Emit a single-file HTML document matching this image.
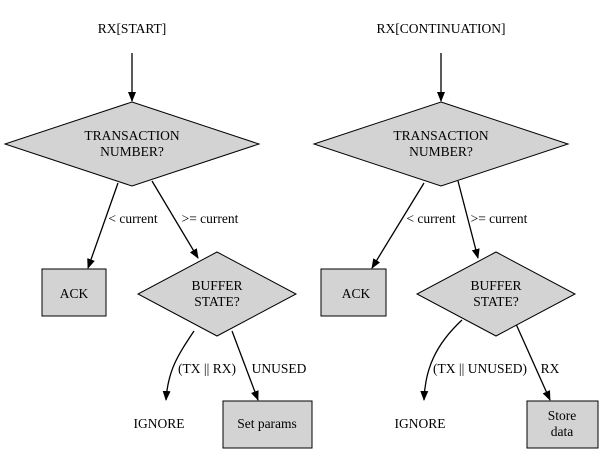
<!DOCTYPE html>
<html><head><meta charset="utf-8"><style>
html,body{margin:0;padding:0;background:#fff;}
svg{display:block;}
svg text{font-family:"Liberation Serif","DejaVu Serif","Times New Roman",serif;font-size:13.5px;}
</style></head><body>
<svg width="605" height="455" viewBox="0 0 605 455" xmlns="http://www.w3.org/2000/svg">
<defs><marker id="a" markerWidth="10" markerHeight="10" refX="9" refY="5" orient="auto" markerUnits="userSpaceOnUse"><path d="M0,1 L10,5 L0,9 Z" fill="#000"/></marker></defs>
<g stroke="#000" stroke-width="1.3" fill="none">
<line x1="132" y1="53" x2="132" y2="101" marker-end="url(#a)"/>
<line x1="118" y1="183" x2="88" y2="268" marker-end="url(#a)"/>
<line x1="152" y1="181" x2="198" y2="258" marker-end="url(#a)"/>
<path d="M194,331 C178,355 168,370 166,400" marker-end="url(#a)"/>
<line x1="232" y1="331" x2="258" y2="400" marker-end="url(#a)"/>
<line x1="441" y1="53" x2="441" y2="101" marker-end="url(#a)"/>
<line x1="424" y1="183" x2="372" y2="268" marker-end="url(#a)"/>
<line x1="458" y1="181" x2="478" y2="258" marker-end="url(#a)"/>
<path d="M462,320 C435,345 425,370 424,400" marker-end="url(#a)"/>
<line x1="516" y1="324" x2="550" y2="400" marker-end="url(#a)"/>
</g>
<g fill="#d3d3d3" stroke="#000" stroke-width="1">
<polygon points="132,102 259,144 132,186 5,144"/>
<rect x="42" y="269" width="64" height="47"/>
<polygon points="217,252 296,294 217,336 138,294"/>
<rect x="223" y="401" width="89" height="47"/>
<polygon points="441,102 568,144 441,186 314,144"/>
<rect x="321" y="269" width="65" height="47"/>
<polygon points="496,252 575,294 496,336 417,294"/>
<rect x="527" y="401" width="71" height="47"/>
</g>
<g text-anchor="middle" fill="#000">
<text x="132" y="33">RX[START]</text>
<text x="132" y="140">TRANSACTION</text>
<text x="132" y="156">NUMBER?</text>
<text x="133" y="223">&lt; current</text>
<text x="210" y="223">&gt;= current</text>
<text x="74" y="298">ACK</text>
<text x="217" y="290">BUFFER</text>
<text x="217" y="306">STATE?</text>
<text x="207" y="373">(TX || RX)</text>
<text x="279" y="373">UNUSED</text>
<text x="159" y="428">IGNORE</text>
<text x="267" y="428">Set params</text>
<text x="441" y="33">RX[CONTINUATION]</text>
<text x="441" y="140">TRANSACTION</text>
<text x="441" y="156">NUMBER?</text>
<text x="431" y="223">&lt; current</text>
<text x="499" y="223">&gt;= current</text>
<text x="356" y="298">ACK</text>
<text x="496" y="290">BUFFER</text>
<text x="496" y="306">STATE?</text>
<text x="480" y="373">(TX || UNUSED)</text>
<text x="550" y="373">RX</text>
<text x="420" y="428">IGNORE</text>
<text x="562" y="420">Store</text>
<text x="562" y="436">data</text>
</g>
</svg>
</body></html>
